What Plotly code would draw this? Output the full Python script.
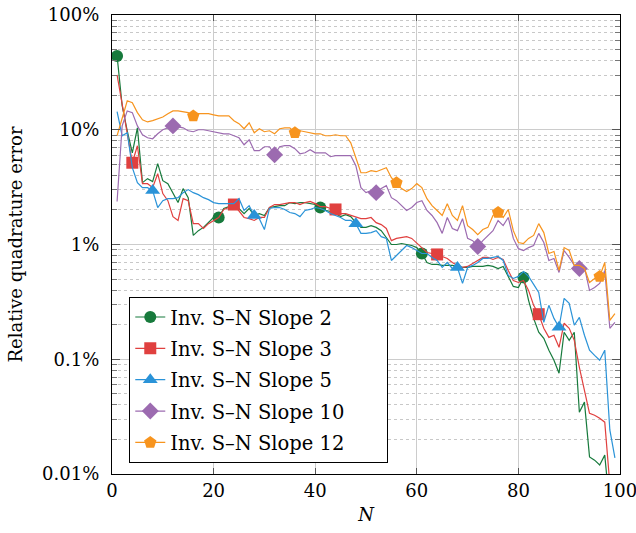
import plotly.graph_objects as go

N = list(range(1, 100))

slope2 = [44.0, 16.2, 9.8, 6.3, 10.4, 3.46, 3.75, 3.53, 5.06, 3.60,
          3.39, 2.78, 2.32, 3.07, 2.56, 1.20, 1.32, 1.41, 1.55, 1.72,
          1.72, 2.06, 2.14, 2.10, 2.06, 1.86, 2.06, 1.79, 1.86, 1.79,
          2.10, 2.14, 2.18, 2.18, 2.32, 2.27, 2.32, 2.32, 2.27, 2.23,
          2.10, 1.98, 1.94, 1.86, 1.75, 1.82, 1.75, 1.55, 1.41, 1.41,
          1.46, 1.41, 1.32, 1.15, 1.00, 1.00, 1.02, 1.00, 0.98, 0.94,
          0.835, 0.697, 0.670, 0.670, 0.657, 0.657, 0.657, 0.644, 0.631, 0.631,
          0.644, 0.644, 0.644, 0.657, 0.644, 0.618, 0.644, 0.527, 0.431, 0.422,
          0.517, 0.326, 0.227, 0.172, 0.152, 0.120, 0.098, 0.0755, 0.172, 0.146,
          0.172, 0.0345, 0.0423, 0.0141, 0.0132, 0.0120, 0.0146, 0.0050, 0.0033]

slope3 = [30.1, 16.8, 9.22, 5.16, 7.26, 3.39, 3.39, 3.13, 4.14, 2.78,
          2.41, 1.75, 1.62, 2.51, 2.41, 1.52, 1.52, 1.38, 1.52, 1.62,
          1.72, 2.02, 2.10, 2.23, 1.98, 1.72, 1.68, 1.62, 1.72, 1.72,
          2.10, 2.23, 2.23, 2.27, 2.32, 2.32, 2.23, 2.32, 2.37, 2.27,
          2.14, 2.14, 2.06, 2.02, 1.86, 1.86, 1.79, 1.72, 1.68, 1.68,
          1.72, 1.55, 1.49, 1.38, 1.08, 1.13, 1.15, 1.17, 1.13, 1.03,
          0.94, 0.852, 0.835, 0.819, 0.786, 0.756, 0.697, 0.657, 0.631, 0.644,
          0.684, 0.726, 0.771, 0.771, 0.741, 0.771, 0.741, 0.594, 0.486, 0.467,
          0.486, 0.398, 0.295, 0.247, 0.186, 0.155, 0.162, 0.127, 0.206, 0.186,
          0.146, 0.085, 0.054, 0.0338, 0.0325, 0.0306, 0.0283, 0.0081, 0.0050]

slope5 = [14.4, 8.87, 9.41, 4.67, 3.46, 3.13, 3.13, 2.95, 2.10, 2.41,
          2.51, 2.51, 2.56, 2.83, 3.01, 2.83, 2.72, 2.56, 2.46, 2.32,
          2.27, 2.27, 2.27, 2.27, 2.51, 1.98, 2.18, 1.79, 1.68, 1.35,
          2.06, 2.10, 2.10, 2.02, 1.90, 1.86, 1.75, 1.98, 2.02, 2.10,
          2.06, 1.98, 1.86, 1.79, 1.72, 1.62, 1.62, 1.52, 1.25, 1.25,
          1.27, 1.32, 1.17, 1.13, 0.726, 0.802, 0.887, 0.98, 0.94, 0.887,
          0.835, 0.835, 0.771, 0.726, 0.631, 0.697, 0.618, 0.631, 0.458, 0.631,
          0.657, 0.697, 0.756, 0.756, 0.771, 0.786, 0.726, 0.538, 0.506, 0.527,
          0.582, 0.527, 0.449, 0.382, 0.210, 0.295, 0.227, 0.190, 0.339, 0.307,
          0.198, 0.232, 0.162, 0.120, 0.108, 0.098, 0.120, 0.0242, 0.0138]

slope10 = [2.37, 10.8, 14.6, 14.1, 10.8, 9.04, 8.51, 8.35, 9.22, 10.0,
           10.4, 10.8, 10.6, 10.4, 9.80, 9.61, 10.0, 10.0, 9.80, 9.61,
           9.41, 9.22, 9.22, 8.87, 8.51, 7.40, 8.18, 6.57, 6.57, 7.11,
           7.11, 6.06, 7.11, 7.26, 7.26, 6.84, 6.18, 6.30, 6.70, 6.30,
           6.30, 6.30, 5.82, 5.94, 5.94, 5.94, 5.94, 4.86, 3.13, 2.83,
           2.95, 2.83, 3.07, 3.26, 2.56, 2.41, 2.18, 1.98, 2.10, 2.32,
           2.41, 1.98, 1.79, 1.55, 1.25, 1.72, 1.38, 1.32, 1.68, 1.13,
           1.08, 0.96, 1.08, 1.20, 1.32, 1.62, 1.46, 1.72, 1.13, 0.92,
           0.887, 0.94, 0.98, 1.25, 1.04, 0.726, 0.756, 0.571, 0.887, 0.771,
           0.657, 0.618, 0.631, 0.398, 0.422, 0.458, 0.594, 0.186, 0.210]

slope12 = [8.87, 12.4, 17.9, 17.2, 14.1, 12.2, 11.7, 12.0, 12.4, 12.9,
           13.8, 14.6, 14.6, 14.4, 14.1, 13.2, 13.8, 13.8, 13.8, 13.5,
           13.2, 13.2, 13.2, 12.0, 11.3, 10.2, 11.5, 9.41, 10.2, 9.61,
           9.80, 9.22, 10.2, 10.4, 10.4, 9.41, 9.80, 9.61, 9.41, 9.22,
           9.22, 8.87, 8.87, 9.04, 8.87, 8.87, 7.70, 5.70, 4.22, 4.22,
           4.40, 4.31, 4.49, 4.67, 3.82, 3.46, 3.07, 2.89, 3.07, 3.39,
           3.13, 2.51, 2.18, 1.98, 1.79, 2.27, 1.79, 1.62, 2.18, 1.46,
           1.35, 1.22, 1.35, 1.41, 1.79, 1.90, 1.72, 2.02, 1.32, 1.04,
           1.02, 1.13, 1.20, 1.52, 1.27, 0.835, 0.87, 0.594, 0.94, 0.887,
           0.657, 0.657, 0.618, 0.467, 0.506, 0.527, 0.697, 0.218, 0.25]

names = ["Inv. S\u2013N Slope 2", "Inv. S\u2013N Slope 3", "Inv. S\u2013N Slope 5",
         "Inv. S\u2013N Slope 10", "Inv. S\u2013N Slope 12"]
colors = ["#177a3c", "#e0403f", "#2a93d8", "#9c6bb0", "#f7941e"]
symbols = ["circle", "square", "triangle-up", "diamond", "pentagon"]
mark_phase = [1, 4, 8, 12, 16]
mark_sizes = [12, 12, 13, 13, 13]
series = [slope2, slope3, slope5, slope10, slope12]

y_tickvals = [0.01, 0.1, 1, 10, 100]
y_ticktext = ["0.01%", "0.1%", "1%", "10%", "100%"]
y_minor = [k * d for d in (0.01, 0.1, 1, 10) for k in range(2, 10)]
x_tickvals = [0, 20, 40, 60, 80, 100]

FONT = "DejaVu Serif"
PAD = "\u00a0" * 6

fig = go.Figure()
for name, col, sym, ph, ms, ys in zip(names, colors, symbols, mark_phase, mark_sizes, series):
    sizes = [ms if (n - ph) % 20 == 0 else 0 for n in N]
    fig.add_trace(go.Scatter(
        x=N, y=ys, name=name, mode="lines+markers", showlegend=False,
        line=dict(color=col, width=1.2),
        marker=dict(symbol=sym, color=col, size=sizes, opacity=1, line=dict(width=0)),
        legendgroup=name,
    ))
    # legend entry (no data of its own)
    fig.add_trace(go.Scatter(
        x=[None], y=[None], name=name + PAD, mode="lines+markers",
        line=dict(color=col, width=1.2),
        marker=dict(symbol=sym, color=col, size=ms, line=dict(width=0)),
        legendgroup=name, showlegend=True,
    ))

fig.update_layout(
    width=636, height=533,
    margin=dict(l=112, r=16, t=15, b=59),
    paper_bgcolor="white", plot_bgcolor="white",
    font=dict(family=FONT, size=18, color="black"),
    showlegend=True,
    legend=dict(x=0.034, y=0.386, xanchor="left", yanchor="top",
                bgcolor="white", bordercolor="black", borderwidth=1,
                font=dict(family=FONT, size=19.5), itemsizing="trace",
                tracegroupgap=3),
)

fig.update_xaxes(
    range=[0, 100], tickvals=x_tickvals, showline=True, linecolor="black",
    linewidth=1.2, mirror="allticks", ticks="inside", ticklen=6, tickcolor="#555",
    showgrid=True, gridcolor="#cccccc", gridwidth=1, zeroline=False,
    title=dict(text="<i>N</i>", font=dict(family=FONT, size=18), standoff=8),
    tickfont=dict(family=FONT, size=18), ticklabeloverflow="allow",
    automargin=False,
)
fig.update_yaxes(
    type="log", range=[-2, 2], tickvals=y_tickvals, ticktext=y_ticktext,
    showline=True, linecolor="black", linewidth=1.2, mirror="allticks",
    ticks="inside", ticklen=8, tickcolor="#555",
    showgrid=True, gridcolor="#cccccc", gridwidth=1, zeroline=False,
    minor=dict(tickmode="array", tickvals=y_minor, ticks="inside", ticklen=5,
               tickcolor="#777", showgrid=True,
               gridcolor="#c8c8c8", griddash="dot", gridwidth=1),
    title=dict(text="Relative quadrature error", font=dict(family=FONT, size=18), standoff=14),
    tickfont=dict(family=FONT, size=18), ticklabelstandoff=8,
    ticklabeloverflow="allow", automargin=False,
)

# remove the default 8px page margin so the 636x533 figure fills the window
fig.write_html("out.html", config={"displayModeBar": False},
               post_script="document.body.style.margin='0';")
